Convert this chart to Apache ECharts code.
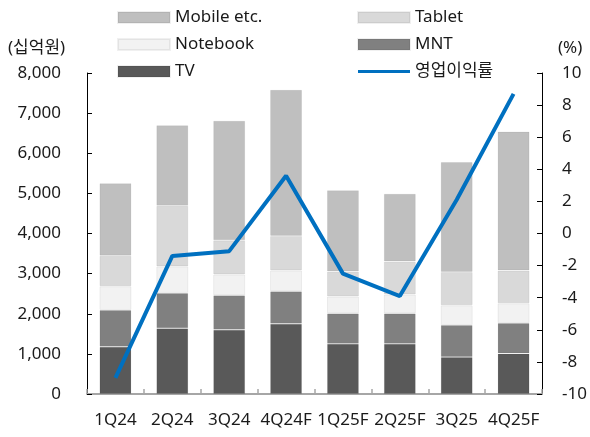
<!DOCTYPE html>
<html><head><meta charset="utf-8">
<script src="https://cdn.jsdelivr.net/npm/echarts@6/dist/echarts.min.js"></script>
<style>html,body{margin:0;padding:0;background:#fff}#c{width:590px;height:437px}</style>
</head><body><div id="c"></div>
<script>
const categories = ['1Q24','2Q24','3Q24','4Q24F','1Q25F','2Q25F','3Q25','4Q25F'];
const tv       = [1175, 1640, 1600, 1750, 1250, 1250, 920, 1010];
const mnt      = [920, 880, 860, 810, 760, 760, 800, 760];
const notebook = [590, 660, 520, 520, 420, 470, 490, 490];
const tablet   = [760, 1510, 850, 860, 620, 820, 830, 820];
const mobile   = [1810, 2010, 2980, 3640, 2030, 1690, 2740, 3460];
const margin   = [-9.0, -1.4, -1.1, 3.6, -2.5, -3.9, 2.1, 8.7];
const leftTicks = [0, 1000, 2000, 3000, 4000, 5000, 6000, 7000, 8000];
const rightTicks = [-10, -8, -6, -4, -2, 0, 2, 4, 6, 8, 10];

const FONT = '"Noto Sans", "Noto Sans CJK KR", sans-serif';
const TXT = '#1a1a1a';
const chart = echarts.init(document.getElementById('c'), null, {renderer:'canvas'});
function bar(name, data, color){
  return {name, type:'bar', stack:'s', data, barWidth:32, yAxisIndex:0,
    itemStyle:{color, borderColor:'rgba(0,0,0,0.06)', borderWidth:1}, emphasis:{disabled:true}};
}
const lineIcon = 'path://M0,0 L52,0 L52,3 L0,3 Z';
chart.setOption({
  animation:false,
  textStyle:{fontFamily:FONT},
  grid:{left:87, right:48, top:73, bottom:43, containLabel:false},
  legend:[
    {orient:'vertical', left:117, top:9, padding:0, itemWidth:52, itemHeight:11, itemGap:10,
     icon:'rect',
     textStyle:{fontSize:17, color:TXT, fontFamily:FONT},
     data:['Mobile etc.','Notebook','TV']},
    {orient:'vertical', left:357, top:9, padding:0, itemWidth:52, itemHeight:11, itemGap:10,
     icon:'rect',
     textStyle:{fontSize:17, color:TXT, fontFamily:FONT},
     data:['Tablet','MNT',{name:'영업이익률', icon:lineIcon}]}
  ],
  graphic:[
    {type:'text', left:8, top:40, style:{text:'(십억원)', fontSize:17, fill:TXT, fontFamily:FONT}},
    {type:'text', left:558, top:40, style:{text:'(%)', fontSize:17, fill:TXT, fontFamily:FONT}}
  ],
  xAxis:{type:'category', data:categories,
    axisLine:{lineStyle:{color:'#a6a6a6', width:2}},
    axisTick:{show:true, inside:true, length:5, lineStyle:{color:'#a6a6a6', width:1.5}},
    axisLabel:{fontSize:17, color:TXT, margin:18, interval:0, fontFamily:FONT}},
  yAxis:[
    {type:'value', min:leftTicks[0], max:leftTicks[leftTicks.length-1], interval:1000,
     axisLine:{show:true, lineStyle:{color:'#000', width:1}},
     axisTick:{show:true, inside:true, length:5, lineStyle:{color:'#000'}},
     splitLine:{show:false},
     axisLabel:{fontSize:17, color:TXT, margin:26, fontFamily:FONT,
       formatter:v=>v.toLocaleString('en-US')}},
    {type:'value', min:rightTicks[0], max:rightTicks[rightTicks.length-1], interval:2,
     axisLine:{show:true, lineStyle:{color:'#000', width:1}},
     axisTick:{show:true, inside:true, length:5, lineStyle:{color:'#000'}},
     splitLine:{show:false},
     axisLabel:{fontSize:17, color:TXT, margin:20, fontFamily:FONT}}
  ],
  series:[
    bar('TV', tv, '#595959'),
    bar('MNT', mnt, '#808080'),
    bar('Notebook', notebook, '#f2f2f2'),
    bar('Tablet', tablet, '#d9d9d9'),
    bar('Mobile etc.', mobile, '#bfbfbf'),
    {name:'영업이익률', type:'line', yAxisIndex:1, data:margin, symbol:'none',
     lineStyle:{color:'#0070c0', width:4}, itemStyle:{color:'#0070c0'}, z:5,
     emphasis:{disabled:true}}
  ]
});
</script></body></html>
